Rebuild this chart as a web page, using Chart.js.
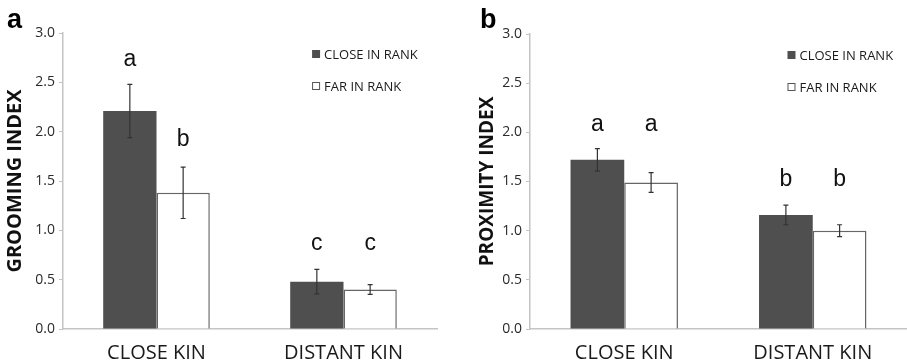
<!DOCTYPE html>
<html><head><meta charset="utf-8">
<script src="https://cdn.jsdelivr.net/npm/chart.js@4/dist/chart.umd.min.js"></script>
<style>
html,body{margin:0;padding:0;background:#fff;}
#wa{position:absolute;left:0;top:0;width:450px;height:364px;}
#wb{position:absolute;left:450px;top:0;width:457px;height:364px;}
</style></head>
<body>
<div id="wa"><canvas id="ca" width="450" height="364"></canvas></div>
<div id="wb"><canvas id="cb" width="457" height="364"></canvas></div>
<script>
// ---- data ----
const categories = ['CLOSE KIN', 'DISTANT KIN'];
const seriesNames = ['CLOSE IN RANK', 'FAR IN RANK'];
const yTicks = [0, 0.5, 1.0, 1.5, 2.0, 2.5, 3.0];

// Panel a: grooming index
const groomClose = [2.21, 0.48];
const groomCloseErr = [0.27, 0.125];
const groomFar = [1.38, 0.40];
const groomFarErr = [0.26, 0.05];
const groomCloseLetters = ['a', 'c'];
const groomFarLetters = ['b', 'c'];
const groomCloseLetterAt = [2.73, 0.86];
const groomFarLetterAt = [1.92, 0.86];

// Panel b: proximity index
const proxClose = [1.72, 1.16];
const proxCloseErr = [0.115, 0.10];
const proxFar = [1.49, 1.00];
const proxFarErr = [0.10, 0.06];
const proxCloseLetters = ['a', 'b'];
const proxFarLetters = ['a', 'b'];
const proxCloseLetterAt = [2.08, 1.52];
const proxFarLetterAt = [2.08, 1.52];

const DARK = '#4f4f4f';
const AXIS = '#c4c4c4';

const errorBarPlugin = {
  id: 'errbars',
  afterDatasetsDraw(chart) {
    const ctx = chart.ctx, ys = chart.scales.y;
    chart.data.datasets.forEach((ds, i) => {
      const meta = chart.getDatasetMeta(i);
      meta.data.forEach((el, j) => {
        const v = ds.data[j], e = ds.errors[j];
        const x = el.x, yt = ys.getPixelForValue(v + e), yb = ys.getPixelForValue(v - e);
        ctx.save();
        ctx.strokeStyle = '#333';
        ctx.lineWidth = 1.2;
        ctx.beginPath();
        ctx.moveTo(x, yt); ctx.lineTo(x, yb);
        ctx.moveTo(x - 2.5, yt); ctx.lineTo(x + 2.5, yt);
        ctx.moveTo(x - 2.5, yb); ctx.lineTo(x + 2.5, yb);
        ctx.stroke();
        // significance letters
        ctx.fillStyle = '#111';
        ctx.font = '23px "Liberation Sans", Arial, sans-serif';
        ctx.textAlign = 'center';
        ctx.textBaseline = 'middle';
        ctx.fillText(ds.letters[j], x, ys.getPixelForValue(ds.letterAt[j]));
        ctx.restore();
      });
    });
  }
};

const extrasPlugin = {
  id: 'extras',
  afterDraw(chart, args, opts) {
    const ctx = chart.ctx, ca = chart.chartArea;
    ctx.save();
    // panel label
    ctx.fillStyle = '#000';
    ctx.font = 'bold 27px "Liberation Sans", Arial, sans-serif';
    ctx.textAlign = 'left';
    ctx.textBaseline = 'alphabetic';
    ctx.fillText(opts.panel, opts.panelX, 28);
    // legend
    const lx = ca.left + opts.legendFrac * (ca.right - ca.left);
    chart.data.datasets.forEach((ds, i) => {
      const cy = opts.legendY + i * 32;
      ctx.fillStyle = ds.backgroundColor;
      ctx.fillRect(lx, cy - 4, 8, 8);
      if (ds.borderWidth) {
        ctx.strokeStyle = '#555';
        ctx.lineWidth = 1;
        ctx.strokeRect(lx + 0.5, cy - 3.5, 7, 7);
      }
      ctx.fillStyle = '#1a1a1a';
      ctx.font = '13px "Open Sans", sans-serif';
      ctx.textBaseline = 'middle';
      ctx.fillText(ds.label, lx + 12, cy + 1);
    });
    ctx.restore();
  }
};

function makeChart(id, title, titleSize, titlePad, close, closeErr, closeL, closeAt, far, farErr, farL, farAt, opts) {
  return new Chart(document.getElementById(id), {
    type: 'bar',
    data: {
      labels: categories,
      datasets: [
        { label: seriesNames[0], data: close, errors: closeErr, letters: closeL, letterAt: closeAt,
          backgroundColor: DARK, borderWidth: 0 },
        { label: seriesNames[1], data: far, errors: farErr, letters: farL, letterAt: farAt,
          backgroundColor: '#ffffff', borderColor: '#666', borderWidth: 1.5 }
      ]
    },
    options: {
      responsive: false,
      devicePixelRatio: 1,
      animation: false,
      layout: { padding: { left: 0, top: opts.top, right: opts.right, bottom: 0 } },
      datasets: { bar: { categoryPercentage: 0.57, barPercentage: 1.0 } },
      plugins: { legend: { display: false }, tooltip: { enabled: false }, extras: opts },
      scales: {
        x: {
          grid: { display: false, drawTicks: false },
          border: { display: true, color: AXIS, width: 1.5 },
          ticks: { color: '#1a1a1a', font: { family: '"Open Sans", sans-serif', size: 20 }, padding: 12, maxRotation: 0 },
          afterFit(s) { s.height = 364 - opts.bottomY; }
        },
        y: {
          min: 0, max: 3,
          afterBuildTicks(s) { s.ticks = yTicks.map(v => ({ value: v })); },
          grid: { display: true, drawOnChartArea: false, drawTicks: true, tickLength: 4, color: AXIS },
          border: { display: true, color: AXIS, width: 1.5 },
          ticks: { color: '#2a2a2a', font: { family: '"Open Sans", sans-serif', size: 14 }, padding: 4,
                   callback: v => Number(v).toFixed(1) },
          title: { display: true, text: title, color: '#111', padding: { top: titlePad, bottom: 0 },
                   font: { family: '"Open Sans", sans-serif', size: titleSize, weight: 'bold' } },
          afterFit(s) { s.width = opts.axisX; }
        }
      }
    },
    plugins: [errorBarPlugin, extrasPlugin]
  });
}

makeChart('ca', 'GROOMING INDEX', 20, 3,
  groomClose, groomCloseErr, groomCloseLetters, groomCloseLetterAt,
  groomFar, groomFarErr, groomFarLetters, groomFarLetterAt,
  { panel: 'a', panelX: 7, axisX: 63, top: 33, right: 13, bottomY: 329, legendFrac: 0.666, legendY: 54 });

makeChart('cb', 'PROXIMITY INDEX', 19, 26,
  proxClose, proxCloseErr, proxCloseLetters, proxCloseLetterAt,
  proxFar, proxFarErr, proxFarLetters, proxFarLetterAt,
  { panel: 'b', panelX: 30, axisX: 80, top: 34, right: 0, bottomY: 329, legendFrac: 0.683, legendY: 55 });
</script>
</body></html>
